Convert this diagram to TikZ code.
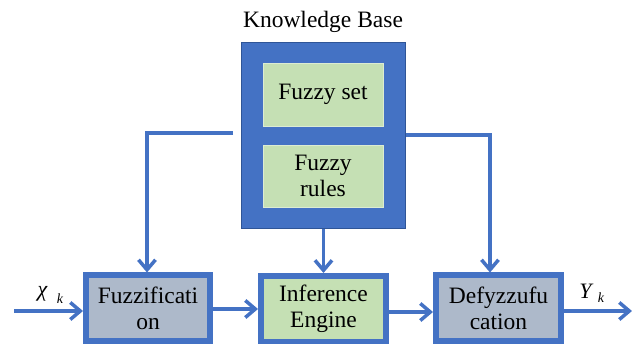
\documentclass[tikz,border=0pt]{standalone}
\usepackage{fontspec}
\setmainfont{Liberation Serif}
\usetikzlibrary{arrows.meta}
\definecolor{kbblue}{HTML}{4472C4}
\definecolor{kbedge}{HTML}{2F5597}
\definecolor{stagegrey}{HTML}{ADB9CA}
\definecolor{rulegreen}{HTML}{C5E0B4}

\begin{document}
\begin{tikzpicture}[x=1pt,y=-1pt,
  lbl/.style={font=\fontsize{23.5}{26}\selectfont, align=center, inner sep=0pt},
  stage/.style={lbl, draw=kbblue, line width=6pt, minimum width=124pt, minimum height=66pt},
  kbpart/.style={lbl, fill=rulegreen, draw=rulegreen!60!white, line width=0.6pt, minimum width=120pt},
  conn/.style={draw=kbblue, line width=3.5pt, -{Straight Barb[length=10pt,width=17pt]}},
  sig/.style={inner sep=0pt, font=\fontsize{22}{22}\selectfont\itshape},
  sub/.style={inner sep=0pt, font=\fontsize{14}{14}\selectfont\itshape}]
  \useasboundingbox (0,0) rectangle (632,344);

  % knowledge base block with its two parts
  \node[fill=kbblue, draw=kbedge, line width=1pt, minimum width=164pt, minimum height=186pt,
        inner sep=0pt] (kb) at (323.5,135.5) {};
  \node[lbl, anchor=base] (kbtitle) at (323,28) {Knowledge Base};
  \node[kbpart, minimum height=63pt] (fset) at (323,94.5) {Fuzzy set};
  \node[kbpart, minimum height=62pt] (frules) at (323,176) {Fuzzy\\rules};

  % processing stages
  \node[stage, fill=stagegrey] (fuzz) at (148,308.5) {Fuzzificati\\on};
  \node[stage, fill=rulegreen, minimum width=125pt] (inf) at (323.5,309) {Inference\\Engine};
  \node[stage, fill=stagegrey, minimum width=125pt] (defuzz) at (498.5,308.5) {Defyzzufu\\cation};

  % input and output signals
  \coordinate (xin) at (14,311);
  \coordinate (yout) at (632,311);
  \node[sig] (chi) at (42.5,294) {χ};
  \node[sub] (chik) at (60,299) {k};
  \node[sig] (yy) at (585.5,291) {Y};
  \node[sub] (yk) at (601,298) {k};

  \draw[conn] (xin) -- (fuzz.west |- xin);
  \draw[conn] (fuzz.east |- 0,309) -- (inf.west |- 0,309);
  \draw[conn] (inf.east |- 0,312) -- (defuzz.west |- 0,312);
  \draw[conn] (defuzz.east |- yout) -- (yout);

  % knowledge base feeds every stage
  \coordinate (kbleft) at (233,133);
  \coordinate (kbright) at (406,135);
  \draw[conn] (kbleft) -| (fuzz.north -| 147,0);
  \draw[conn] (kb.south) -- (inf.north);
  \draw[conn] (kbright) -| (defuzz.north -| 490,0);
\end{tikzpicture}
\end{document}
